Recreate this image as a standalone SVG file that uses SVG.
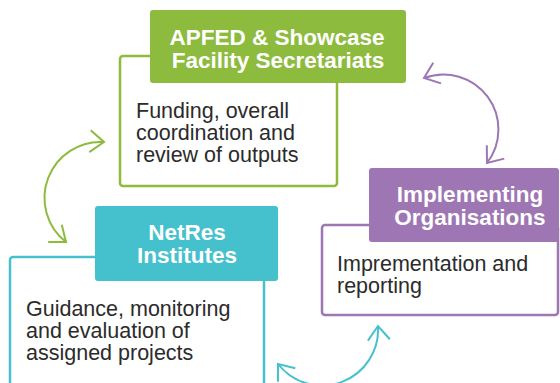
<svg xmlns="http://www.w3.org/2000/svg" width="560" height="383" viewBox="0 0 560 383">
<style>
.hd{font-family:"Liberation Sans",Arial,sans-serif;font-weight:bold;font-size:22.5px;fill:#fff;text-anchor:middle}
.bd{font-family:"Liberation Sans",Arial,sans-serif;font-size:21.5px;fill:#2b2b2b}
.arc{fill:none;stroke-width:2}
</style>
<defs>
<marker id="mg" markerUnits="userSpaceOnUse" markerWidth="40" markerHeight="40" refX="0" refY="0" orient="auto-start-reverse" overflow="visible"><path d="M-14,-11 L0,0 L-14,11" fill="none" stroke="#8dbb3d" stroke-width="2"/></marker>
<marker id="mp" markerUnits="userSpaceOnUse" markerWidth="40" markerHeight="40" refX="0" refY="0" orient="auto-start-reverse" overflow="visible"><path d="M-14,-11 L0,0 L-14,11" fill="none" stroke="#9e76b4" stroke-width="2"/></marker>
<marker id="mc" markerUnits="userSpaceOnUse" markerWidth="40" markerHeight="40" refX="0" refY="0" orient="auto-start-reverse" overflow="visible"><path d="M-14,-11 L0,0 L-14,11" fill="none" stroke="#45c1ce" stroke-width="2"/></marker>
</defs>
<g id="connectors">
<path class="arc" stroke="#8dbb3d" d="M104,142 A56,56 0 0 0 66,242" marker-start="url(#mg)" marker-end="url(#mg)"/>
<path class="arc" stroke="#9e76b4" d="M424,78 A55,55 0 0 1 487,163" marker-start="url(#mp)" marker-end="url(#mp)"/>
<path class="arc" stroke="#45c1ce" d="M378,326 A56,56 0 0 1 278,364" marker-start="url(#mc)" marker-end="url(#mc)"/>
</g>
<g id="apfed">
<rect x="120" y="56" width="217" height="130" rx="3" fill="#fff" stroke="#8dbb3d" stroke-width="2.5"/>
<rect x="150" y="10" width="256" height="73" rx="3" fill="#8dbb3d"/>
<text class="hd" x="277" y="45">APFED &amp; Showcase</text>
<text class="hd" x="278" y="68">Facility Secretariats</text>
<text class="bd" x="136" y="118">Funding, overall</text>
<text class="bd" x="136" y="140">coordination and</text>
<text class="bd" x="136" y="162">review of outputs</text>
</g>
<g id="implementing">
<rect x="322" y="225" width="236" height="90" rx="3" fill="#fff" stroke="#9e76b4" stroke-width="2.5"/>
<rect x="369" y="168" width="190" height="74" rx="3" fill="#9e76b4"/>
<text class="hd" x="470" y="202">Implementing</text>
<text class="hd" x="470" y="225">Organisations</text>
<text class="bd" x="337" y="271">Imprementation and</text>
<text class="bd" x="337" y="293">reporting</text>
</g>
<g id="netres">
<rect x="10" y="257" width="254" height="140" rx="3" fill="#fff" stroke="#45c1ce" stroke-width="2.5"/>
<rect x="95" y="206" width="183" height="75" rx="3" fill="#45c1ce"/>
<text class="hd" x="187" y="240">NetRes</text>
<text class="hd" x="187" y="263">Institutes</text>
<text class="bd" x="26" y="316">Guidance, monitoring</text>
<text class="bd" x="26" y="338">and evaluation of</text>
<text class="bd" x="26" y="360">assigned projects</text>
</g>
</svg>
